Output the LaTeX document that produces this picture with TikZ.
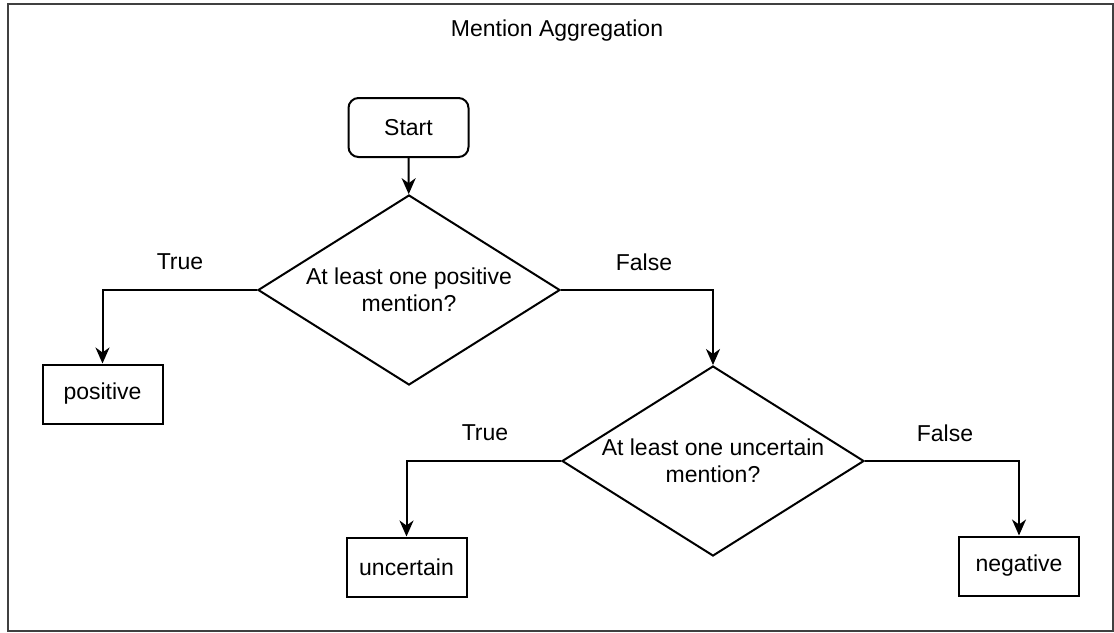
\documentclass[tikz,border=0pt]{standalone}
\usepackage{fontspec}
\setmainfont{Liberation Sans}
\usetikzlibrary{shapes.geometric,arrows.meta}

\begin{document}
\begin{tikzpicture}[
  font=\fontsize{11.5}{13.5}\selectfont,
  x=0.5pt, y=-0.5pt,
  outbox/.style={draw, line width=1pt, minimum width=60pt, minimum height=29.5pt, inner sep=2pt},
  startbox/.style={outbox, rounded corners=5pt},
  decision/.style={draw, diamond, aspect=1.6, line width=1pt, minimum width=151pt, minimum height=95pt, inner sep=0pt, align=center},
  arr/.style={line width=1pt, -{Stealth[length=8pt,width=7pt,inset=2.5pt]}},
]
\useasboundingbox (0,0) rectangle (1114,632);
\draw[black!75, line width=1pt] (8,4) rectangle (1113,631);
\node (title) at (557,31) {Mention Aggregation};
\node[startbox] (start) at (408.5,127.5) {Start};
\node[decision] (d1) at (409,290) {At least one positive\\mention?};
\node[decision] (d2) at (713,461) {At least one uncertain\\mention?};
\node[outbox] (pos) at (102.5,394) {positive};
\node[outbox] (unc) at (406.5,567) {uncertain};
\node[outbox] (neg) at (1019,566) {negative};
\foreach \n/\x/\y/\t in {t1/180/262/True, f1/644/262/False, t2/485/433/True, f2/945/433/False}
  \node (\n) at (\x,\y) {\t};
\draw[arr] (start) -- (d1);
\draw[arr] (d1.west) -| (pos.north);
\draw[arr] (d1.east) -| (d2.north);
\draw[arr] (d2.west) -| (unc.north);
\draw[arr] (d2.east) -| (neg.north);
\end{tikzpicture}
\end{document}
